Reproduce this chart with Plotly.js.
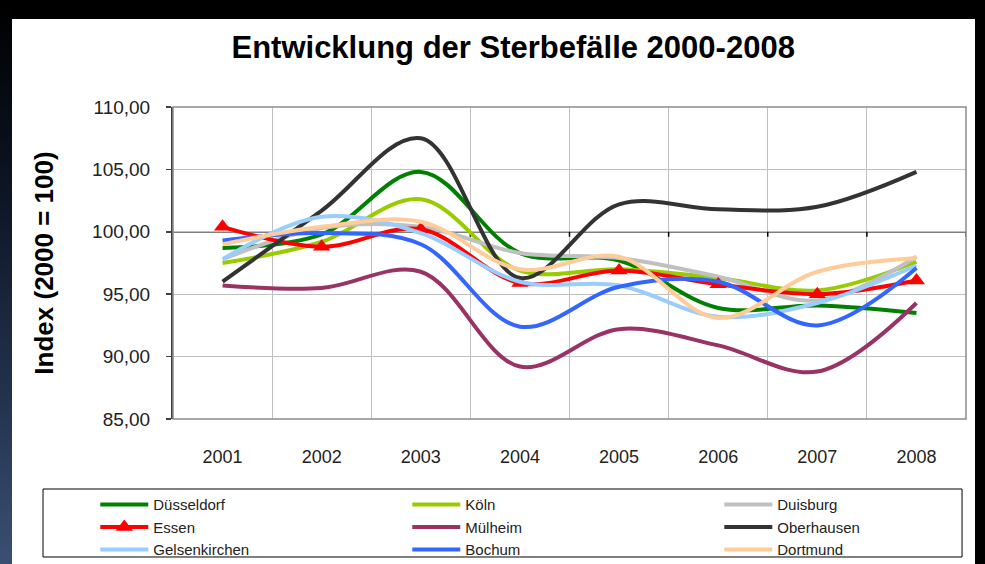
<!DOCTYPE html>
<html>
<head>
<meta charset="utf-8">
<script src="https://cdn.plot.ly/plotly-3.0.1.min.js"></script>
<style>
  html, body { margin: 0; padding: 0; background: #000; width: 985px; height: 564px; overflow: hidden; }
  #strip { position: absolute; left: 0; top: 0; width: 12px; height: 564px;
           background: linear-gradient(to bottom, #000 0%, #0b1220 30%, #22324d 70%, #3a5072 100%); }
  #sheet { position: absolute; left: 12px; top: 19px; width: 963px; height: 545px; background: #fff; }
  #chart { position: absolute; left: 0; top: 0; width: 985px; height: 564px; }
</style>
</head>
<body>
<div id="strip"></div>
<div id="sheet"></div>
<div id="chart"></div>
<script>
const years = ['2001', '2002', '2003', '2004', '2005', '2006', '2007', '2008'];

const duesseldorf   = [98.7, 99.8, 104.8, 98.3, 97.7, 93.9, 94.1, 93.5];
const koeln         = [97.5, 99.2, 102.6, 96.9, 97.0, 96.3, 95.3, 97.6];
const duisburg      = [97.8, 100.3, 100.4, 98.3, 97.9, 96.4, 94.5, 98.0];
const essen         = [100.4, 98.8, 100.2, 95.9, 96.9, 95.8, 95.0, 96.1];
const muelheim      = [95.7, 95.5, 96.8, 89.2, 92.2, 90.9, 88.8, 94.3];
const oberhausen    = [96.0, 101.7, 107.5, 96.3, 102.2, 101.8, 102.0, 104.8];
const gelsenkirchen = [97.8, 101.2, 99.9, 96.0, 95.7, 93.2, 94.3, 97.3];
const bochum        = [99.3, 99.9, 99.0, 92.4, 95.6, 96.0, 92.5, 97.1];
const dortmund      = [99.0, 100.4, 100.8, 97.0, 98.0, 93.1, 96.8, 97.9];

const yTicks = [85, 90, 95, 100, 105, 110];

const seriesNames = ['Düsseldorf', 'Köln', 'Duisburg', 'Essen', 'Mülheim', 'Oberhausen', 'Gelsenkirchen', 'Bochum', 'Dortmund'];
const seriesData = [duesseldorf, koeln, duisburg, essen, muelheim, oberhausen, gelsenkirchen, bochum, dortmund];
const seriesColors = ['#008000', '#99cc00', '#c0c0c0', '#ff0000', '#993366', '#333333', '#99ccff', '#3366ff', '#ffcc99'];

const traces = seriesNames.map((name, i) => {
  const t = {
    type: 'scatter',
    x: years,
    y: seriesData[i],
    name: name,
    mode: name === 'Essen' ? 'lines+markers' : 'lines',
    line: { color: seriesColors[i], width: 4, shape: 'spline', smoothing: 1 },
    hoverinfo: 'skip'
  };
  if (name === 'Essen') {
    t.marker = { symbol: 'triangle-up', size: 15, color: '#ff0000', line: { width: 0 } };
  }
  return t;
});

// category boundary tick marks on the 100-line
const boundaryTicks = years.map((_, i) => ({
  type: 'line', xref: 'x', yref: 'y', x0: i + 0.5, x1: i + 0.5,
  ysizemode: 'pixel', yanchor: 100, y0: 0, y1: -5,
  line: { color: '#000', width: 1.5 }, layer: 'between'
}));

const font = 'Liberation Sans, Arial, sans-serif';

const layout = {
  width: 985, height: 564,
  margin: { l: 173, r: 19, t: 107, b: 145, autoexpand: false },
  paper_bgcolor: 'rgba(0,0,0,0)',
  plot_bgcolor: '#ffffff',
  separators: ',.',
  font: { family: font, color: '#222' },
  title: {
    text: 'Entwicklung der Sterbefälle 2000-2008',
    font: { family: font, size: 31, weight: 'bold', color: '#000' },
    x: 0.521, xref: 'container', xanchor: 'center',
    y: 0.917, yref: 'container', yanchor: 'middle'
  },
  xaxis: {
    type: 'category', categoryarray: years, range: [-0.5, 7.5],
    tickson: 'boundaries', showgrid: true, gridcolor: '#c0c0c0', gridwidth: 1,
    ticks: '', showline: false, zeroline: false,
    tickfont: { family: font, size: 18, color: '#222' },
    ticklabelstandoff: 25, fixedrange: true
  },
  yaxis: {
    range: [85, 110], tickvals: yTicks, tickformat: '.2f',
    showgrid: true, gridcolor: '#c0c0c0', gridwidth: 1, zeroline: false,
    showline: true, linecolor: '#404040', linewidth: 2,
    ticks: 'outside', ticklen: 5, tickcolor: '#404040', tickwidth: 1.5,
    tickfont: { family: font, size: 19, color: '#222' },
    ticklabelstandoff: 12, fixedrange: true, automargin: false,
    title: { text: 'Index (2000 = 100)', font: { family: font, size: 26, weight: 'bold', color: '#000' }, standoff: 31 }
  },
  showlegend: true,
  legend: {
    orientation: 'h', x: -0.098, xanchor: 'left', y: -0.222, yanchor: 'top',
    bgcolor: 'rgba(0,0,0,0)', borderwidth: 0,
    font: { family: font, size: 15, color: '#222' },
    entrywidth: 249, entrywidthmode: 'pixels', itemwidth: 48,
    traceorder: 'normal'
  },
  shapes: [
    { type: 'rect', xref: 'paper', yref: 'paper', x0: -0.1639, x1: 0.995, y0: -0.2244, y1: -0.4423,
      line: { color: '#000', width: 1 }, fillcolor: '#fff', layer: 'below' },
    { type: 'line', xref: 'paper', yref: 'y', x0: 0, x1: 1, y0: 100, y1: 100,
      line: { color: '#000', width: 1.5 }, layer: 'between' },
    ...boundaryTicks,
    { type: 'rect', xref: 'paper', yref: 'paper', x0: 0, x1: 1, y0: 0, y1: 1,
      line: { color: '#8c8c8c', width: 1.5 }, fillcolor: 'rgba(0,0,0,0)', layer: 'above' }
  ]
};

Plotly.newPlot('chart', traces, layout, { displayModeBar: false, staticPlot: true });
</script>
</body>
</html>
